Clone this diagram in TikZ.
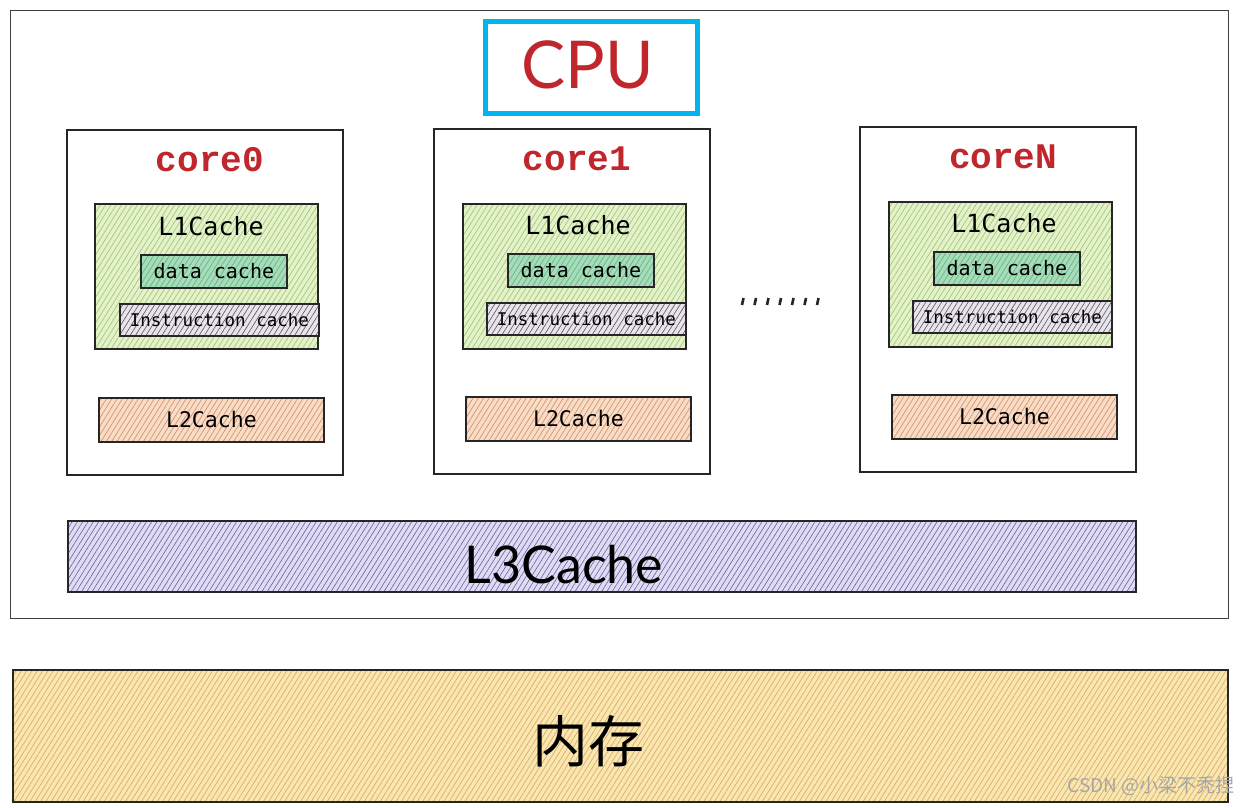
\documentclass[tikz,border=0pt]{standalone}
\usepackage{fontspec}
\setmainfont{Lato}
\newfontfamily\monof{DejaVu Sans Mono}
\newfontfamily\redmono{Liberation Mono}
\newfontfamily\cjk{Noto Sans CJK SC}
\usetikzlibrary{patterns.meta}
\definecolor{cpublue}{HTML}{00B4F0}
\definecolor{cpured}{HTML}{C0272D}
\definecolor{lonefill}{HTML}{E4F2C8}
\definecolor{lonehatch}{HTML}{9CC07A}
\definecolor{datafill}{HTML}{A6DDB8}
\definecolor{datahatch}{HTML}{5FAF86}
\definecolor{insfill}{HTML}{E8E4EC}
\definecolor{inshatch}{HTML}{5A5060}
\definecolor{ltwofill}{HTML}{F8DCC4}
\definecolor{ltwohatch}{HTML}{D08A70}
\definecolor{lthreefill}{HTML}{DEDBF2}
\definecolor{lthreehatch}{HTML}{6A60A0}
\definecolor{memfill}{HTML}{F9E6B0}
\definecolor{memhatch}{HTML}{D8A860}
\tikzset{
  box/.style={draw=black!85, line width=1.8pt, inner sep=0pt, anchor=north west},
  hatched/.style 2 args={box, preaction={fill=#1},
    pattern={Lines[angle=58,distance=4.5pt,line width=0.6pt]}, pattern color=#2},
  corelabel/.style={text=cpured, font=\redmono\bfseries\fontsize{36}{40}\selectfont},
  lonelabel/.style={font=\monof\fontsize{25}{28}\selectfont},
  datalabel/.style={font=\monof\fontsize{20}{24}\selectfont},
  inslabel/.style={font=\monof\fontsize{17.5}{20}\selectfont},
  ltwolabel/.style={font=\monof\fontsize{21.5}{24}\selectfont},
}
\begin{document}
\begin{tikzpicture}[x=1pt,y=-1pt]
\useasboundingbox (0,0) rectangle (1242,807);
% outer CPU frame
\node (cpu) [draw=black!75, line width=1.4pt, inner sep=0pt, anchor=north west,
  minimum width=1218pt, minimum height=608pt] at (10,10) {};
\node (cpulbl) [draw=cpublue, line width=5pt, inner sep=0pt, anchor=north west,
  minimum width=212pt, minimum height=92pt] at (483,19) {};
\node (cputxt) [text=cpured, font=\fontsize{66}{70}\selectfont] at ([shift={(-4,-3)}]cpulbl.center) {CPU};

% cores: x0 = left, y0 = top
\foreach \id/\lbl/\x/\y in {a/core0/66/129, b/core1/433/128, c/coreN/859/126}{
  \node (core\id) [box, minimum width=276pt, minimum height=345pt] at (\x,\y) {};
  \node (core\id t) [corelabel] at ([shift={(144,31)}]core\id.north west) {\lbl};
  \node (l1\id) [hatched={lonefill}{lonehatch}, minimum width=223pt, minimum height=145pt]
     at ([shift={(29,75)}]core\id.north west) {};
  \node (l1\id t) [lonelabel] at ([shift={(116,22)}]l1\id.north west) {L1Cache};
  \node (data\id) [hatched={datafill}{datahatch}, minimum width=146pt, minimum height=33pt]
     at ([shift={(45,50)}]l1\id.north west) {};
  \node (data\id t) [datalabel] at (data\id.center) {data cache};
  \node (ins\id) [hatched={insfill}{inshatch}, minimum width=199pt, minimum height=32pt]
     at ([shift={(24,99)}]l1\id.north west) {};
  \node (ins\id t) [inslabel] at (ins\id.center) {Instruction cache};
  \node (l2\id) [hatched={ltwofill}{ltwohatch}, minimum width=225pt, minimum height=44pt]
     at ([shift={(32,268)}]core\id.north west) {};
  \node (l2\id t) [ltwolabel] at (l2\id.center) {L2Cache};
}

% ellipsis marks between core1 and coreN
\foreach \i in {0,...,6}{
  \draw[line width=2.6pt, black!85] (742+\i*12.5,305) -- (743.5+\i*12.5,298);
}

% L3 cache
\node (l3) [hatched={lthreefill}{lthreehatch}, minimum width=1068pt, minimum height=71pt]
  at (67,520) {};
\node (l3t) [font=\fontsize{52}{56}\selectfont] at ([shift={(-38,8)}]l3.center) {L3Cache};

% memory
\node (mem) [hatched={memfill}{memhatch}, minimum width=1215pt, minimum height=132pt]
  at (12,669) {};
\node (memt) [font=\cjk\fontsize{56}{60}\selectfont] at ([shift={(-32,5)}]mem.center) {内存};

% watermark
\node (wm) [text=black!35, font=\cjk\fontsize{19}{22}\selectfont, anchor=east] at (1238,786) {CSDN @小梁不秃捏};
\end{tikzpicture}
\end{document}
